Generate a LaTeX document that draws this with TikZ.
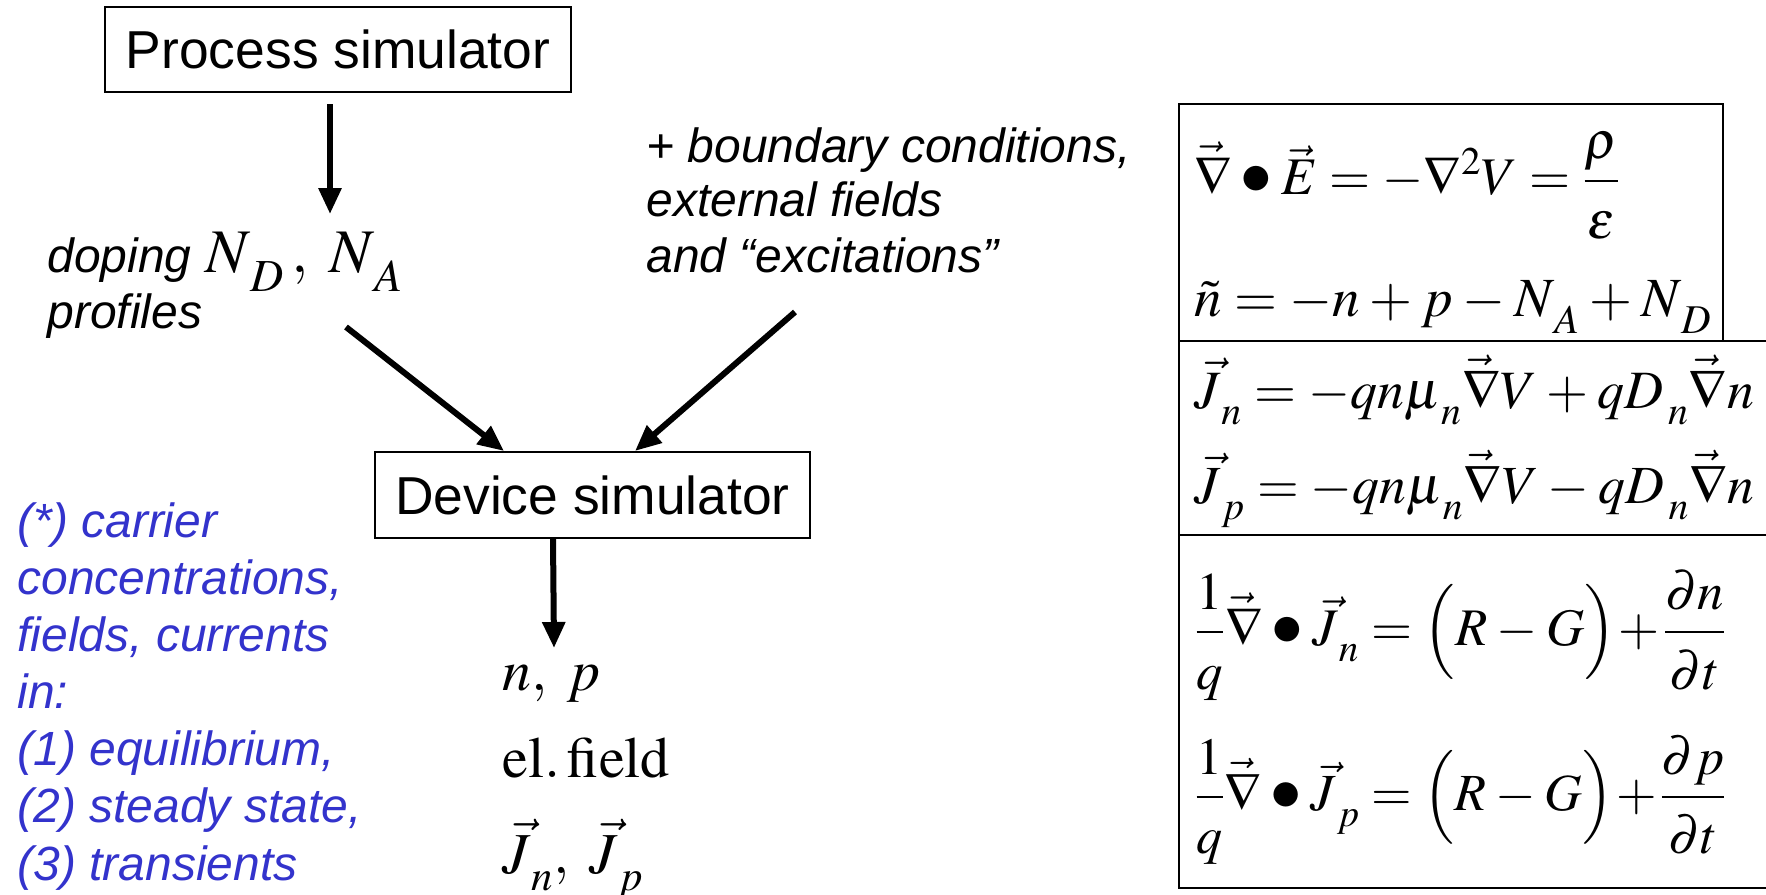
\documentclass[tikz,border=0pt]{standalone}
\usepackage{amsmath}
\usepackage{mathptmx}
\usepackage[no-math]{fontspec}
\setmainfont{Liberation Sans}
\usepackage{graphicx}
\usetikzlibrary{arrows.meta}
\definecolor{noteblue}{RGB}{51,51,204}

% centred dot used as the divergence operator
\newcommand\divdot{\mathbin{\scalebox{1.2}{$\bullet$}}}
% subscript set a little lower, as in the equation editor style
\newcommand\lsub[1]{_{\lower0.3ex\hbox{$\scriptstyle\,#1$}}}
% fraction with more air between numerator, bar and denominator
\newcommand\wfrac[2]{\dfrac{#1\rule[-0.25em]{0pt}{0.25em}}{\rule{0pt}{0.95em}#2}}
% an equation set to a given width
\newcommand\eqw[2]{\resizebox{#1}{!}{$#2$}}

\tikzset{
  simbox/.style={draw, line width=1pt, inner sep=0pt, font=\fontsize{26.7}{32}\selectfont},
  flow/.style={line width=3pt, -{Triangle[length=13pt,width=11pt]}},
  note/.style={anchor=base west, inner sep=0pt, font=\fontsize{24}{29}\selectfont\itshape},
  bluenote/.style={note, text=noteblue},
  mathlbl/.style={anchor=base west, inner sep=0pt, font=\fontsize{29}{35}\selectfont},
  eqn/.style={anchor=base west, inner sep=0pt, font=\fontsize{28}{34}\selectfont,
    execute at begin node={\thickmuskip=4mu plus 2mu\medmuskip=3mu plus 1mu}},
  frame/.style={line width=1pt},
}

\begin{document}
\begin{tikzpicture}[x=0.5pt,y=-0.5pt]
\useasboundingbox (0,0) rectangle (1766,894);

% simulators
\node[simbox, minimum width=233pt, minimum height=42.5pt] (proc) at (338,49.5) {Process simulator};
\node[simbox, minimum width=217.5pt, minimum height=43pt] (dev) at (592.5,495) {Device simulator};

% inputs
\node[note] (doping) at (47,272) {doping};
\node[mathlbl, font=\fontsize{31}{37}\selectfont] (ndna) at (205,272) {$N\lsub{D}\,,\; N\lsub{A}$};
\node[note] (profiles) at (47,328) {profiles};

\node[note] (bc1) at (646,162) {+ boundary conditions,};
\node[note] (bc2) at (646,216) {external fields};
\node[note] (bc3) at (646,272) {and “excitations”};

% outputs
\node[mathlbl] (np) at (502,690) {$n,\;p$};
\node[mathlbl] (field) at (502,777) {$\mathrm{el.\,field}$};
\node[mathlbl] (jj) at (502,873) {$\vec J\lsub{n},\;\vec J\lsub{p}$};

% note on the results
\node[bluenote] (b1) at (17,537) {(*) carrier};
\node[bluenote] (b2) at (17,594) {concentrations,};
\node[bluenote] (b3) at (17,651) {fields, currents};
\node[bluenote] (b4) at (17,708) {in:};
\node[bluenote] (b5) at (17,765) {(1) equilibrium,};
\node[bluenote] (b6) at (17,822) {(2) steady state,};
\node[bluenote] (b7) at (17,880) {(3) transients};

% connectors
\coordinate (a1s) at (330,104);
\coordinate (a1e) at (330,214);
\coordinate (a2s) at (346,327);
\coordinate (a3s) at (795,312);
\coordinate (outp) at (554,648);
\draw[flow] (a1s) -- (a1e);
\draw[flow] (a2s) -- ([xshift=65pt]dev.north west);
\draw[flow] (a3s) -- ([xshift=130.5pt]dev.north west);
\draw[flow] ([xshift=89.5pt]dev.south west) -- (outp);

% equation frames
\draw[frame] (1179,104) rectangle (1723,341);
\draw[frame] (1767,341) -- (1179,341) -- (1179,888) -- (1767,888);
\draw[frame] (1179,535) -- (1767,535);

% equations
\node[eqn] (poisson) at (1194,194) {\eqw{213pt}{\vec\nabla\divdot\vec E=-\nabla^2V=\wfrac{\rho}{\varepsilon}}};
\node[eqn] (charge) at (1194,316) {\eqw{259pt}{\tilde n=-n+p-N\lsub{A}+N\lsub{D}}};
\node[eqn] (jn) at (1194,408) {\eqw{280pt}{\vec J\lsub{n}=-qn\mu\lsub{n}\vec\nabla V+qD\lsub{n}\vec\nabla n}};
\node[eqn] (jp) at (1194,503) {\eqw{280pt}{\vec J\lsub{p}=-qn\mu\lsub{n}\vec\nabla V-qD\lsub{n}\vec\nabla n}};
\node[eqn] (contn) at (1194,645) {\eqw{266pt}{\wfrac{1}{q}\vec\nabla\divdot\vec J\lsub{n}=\Bigl(R-G\Bigr)\mkern-2mu+\mkern-2mu\wfrac{\partial n}{\partial t}}};
\node[eqn] (contp) at (1194,810) {\eqw{266pt}{\wfrac{1}{q}\vec\nabla\divdot\vec J\lsub{p}=\Bigl(R-G\Bigr)\mkern-2mu+\mkern-2mu\wfrac{\partial p}{\partial t}}};
\end{tikzpicture}
\end{document}
